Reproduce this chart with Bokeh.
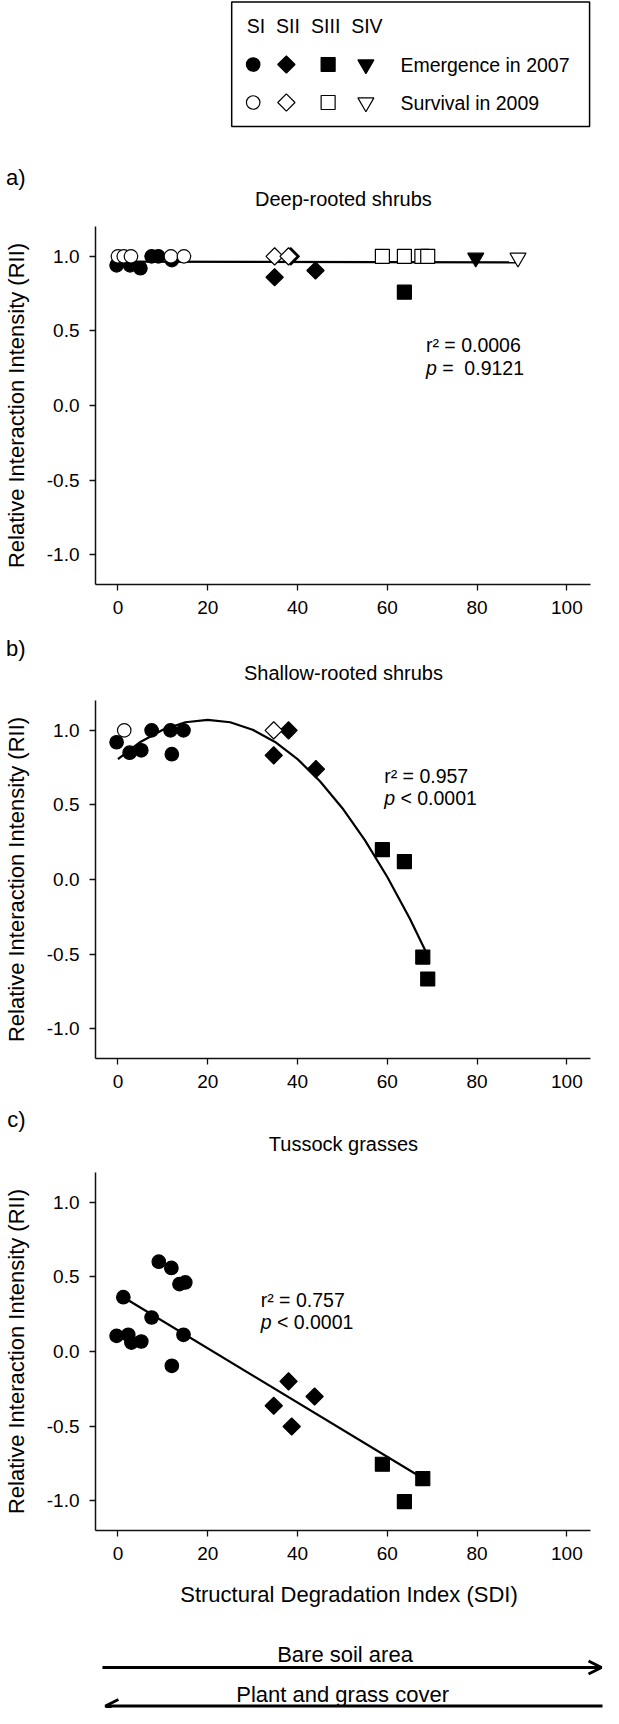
import numpy as np
from bokeh.plotting import figure
from bokeh.layouts import column
from bokeh.models import Label, FixedTicker, PrintfTickFormatter, Range1d, Arrow, OpenHead, LinearAxis
from bokeh.embed import file_html
from bokeh.resources import INLINE

FONT = "Liberation Sans"
NB = "\u00a0"

# ---------------- data (SDI on x, RII on y) ----------------
x_ticks = [0, 20, 40, 60, 80, 100]
y_ticks = [-1.0, -0.5, 0.0, 0.5, 1.0]
groups = ["SI", "SII", "SIII", "SIV"]
row_labels = ["Emergence in 2007", "Survival in 2009"]
panel_letters = ["a)", "b)", "c)"]
panel_titles = ["Deep-rooted shrubs", "Shallow-rooted shrubs", "Tussock grasses"]

# a) Deep-rooted shrubs
a_si_em_x = [-0.3, 2.7, 5.0, 7.5, 9.0, 12.0]
a_si_em_y = [0.94, 0.94, 0.92, 1.00, 1.00, 0.975]
a_si_sv_x = [0.0, 1.3, 2.9, 11.8, 14.7]
a_si_sv_y = [1.00, 1.00, 1.00, 1.00, 1.00]
a_sii_em_x = [34.9, 38.5, 44.0]
a_sii_em_y = [0.86, 1.00, 0.905]
a_sii_sv_x = [34.9, 38.0]
a_sii_sv_y = [1.00, 1.00]
a_siii_em_x = [63.8]
a_siii_em_y = [0.76]
a_siii_sv_x = [58.9, 63.8, 67.7, 69.0]
a_siii_sv_y = [1.00, 1.00, 1.00, 1.00]
a_siv_em_x = [79.7]
a_siv_em_y = [0.99]
a_siv_sv_x = [89.1]
a_siv_sv_y = [0.99]
a_fit_x = [0.0, 89.1]
a_fit_y = [0.965, 0.960]

# b) Shallow-rooted shrubs
b_si_em_x = [-0.3, 2.6, 5.2, 7.5, 11.7, 12.0, 14.6]
b_si_em_y = [0.92, 0.85, 0.866, 1.00, 1.00, 0.84, 1.00]
b_si_sv_x = [1.4]
b_si_sv_y = [1.00]
b_sii_em_x = [38.0, 34.7, 44.1]
b_sii_em_y = [1.00, 0.832, 0.74]
b_sii_sv_x = [34.7]
b_sii_sv_y = [1.00]
b_siii_em_x = [58.9, 63.8, 67.9, 69.0]
b_siii_em_y = [0.20, 0.12, -0.52, -0.667]
b_fit_x = [0, 5, 10, 15, 20, 25, 30, 35, 40, 45, 50, 55, 60, 65, 68.7]
b_fit_y = [0.807, 0.922, 1.004, 1.054, 1.070, 1.054, 1.004, 0.922, 0.807,
           0.659, 0.478, 0.264, 0.017, -0.262, -0.491]

# c) Tussock grasses
c_si_em_x = [-0.3, 1.2, 2.3, 3.0, 5.2, 7.5, 9.1, 11.9, 12.0, 13.7, 15.0, 14.6]
c_si_em_y = [0.105, 0.364, 0.112, 0.06, 0.067, 0.228, 0.602, 0.56, -0.096, 0.452, 0.463, 0.112]
c_sii_em_x = [38.0, 43.8, 34.7, 38.7]
c_sii_em_y = [-0.20, -0.302, -0.364, -0.503]
c_siii_em_x = [58.9, 63.8, 67.9]
c_siii_em_y = [-0.756, -1.007, -0.852]
c_fit_x = [1.2, 67.9]
c_fit_y = [0.364, -0.85]

stats_a = ("r\u00b2 = 0.0006", NB + "=" + NB + NB + "0.9121")
stats_b = ("r\u00b2 = 0.957", NB + "<" + NB + "0.0001")
stats_c = ("r\u00b2 = 0.757", NB + "<" + NB + "0.0001")

# ---------------- styling ----------------
MARK = {"SI": ("circle", 13.5, 0.0),
        "SII": ("square", 12.2, np.pi / 4),
        "SIII": ("square", 14, 0.0),
        "SIV": ("inverted_triangle", 16, 0.0)}
W = 603
BL, BR = 92, 1          # left / right borders shared by every figure (frames page x 100..610)
X_LO, X_HI = -5.0, 107.93
X_AXIS_END = 105.2


def add_points(p, xs, ys, group, filled):
    marker, size, angle = MARK[group]
    p.scatter(xs, ys, marker=marker, size=size, angle=angle,
              fill_color="black" if filled else "white",
              line_color="black", line_width=1.2)


def lab(p, x, y, text, size, align="left", style="normal", x_offset=0):
    p.add_layout(Label(x=x, y=y, text=text, text_font=FONT, text_font_size=size,
                       text_align=align, text_baseline="middle", text_color="black",
                       text_font_style=style, x_offset=x_offset))


def blank(top, height):
    # strip in page-pixel coordinates: frame covers page x 100..610, page y top..top+height
    p = figure(width=W, height=height, x_range=Range1d(8 + BL, 8 + W - BR),
               y_range=Range1d(top + height, top),
               output_backend="svg", toolbar_location=None,
               x_axis_location=None, y_axis_location=None,
               min_border_left=BL, min_border_right=BR, min_border_top=0, min_border_bottom=0)
    p.grid.visible = False
    p.outline_line_color = None
    return p


def title_strip(top, height, idx, y_letter, y_title):
    t = blank(top, height)
    # panel letter shown as the single tick label of an invisible left axis (sits left of the frame)
    ax = LinearAxis(ticker=FixedTicker(ticks=[y_letter], minor_ticks=[]),
                    major_label_overrides={y_letter: panel_letters[idx]})
    ax.axis_line_color = None
    ax.major_tick_line_color = None
    ax.major_tick_out = 0
    ax.major_tick_in = 0
    ax.minor_tick_out = 0
    ax.major_label_standoff = 70
    ax.major_label_text_font = FONT
    ax.major_label_text_font_size = "22px"
    ax.major_label_text_color = "black"
    t.add_layout(ax, "left")
    lab(t, 349.4, y_title, panel_titles[idx], "20px", align="center")
    return t


def panel(height, b_top, b_bottom, stats, ann_x, ann_y1, ann_y2, xlabel=None):
    p = figure(width=W, height=height, x_range=Range1d(X_LO, X_HI), y_range=Range1d(-1.2, 1.2),
               output_backend="svg", toolbar_location=None,
               min_border_left=BL, min_border_right=BR,
               min_border_top=b_top, min_border_bottom=b_bottom)
    p.grid.visible = False
    p.outline_line_color = None
    p.background_fill_color = "white"
    p.border_fill_color = "white"
    xa, ya = p.xaxis[0], p.yaxis[0]
    xa.bounds = (X_LO, X_AXIS_END)
    xa.ticker = FixedTicker(ticks=x_ticks, minor_ticks=[])
    ya.ticker = FixedTicker(ticks=y_ticks, minor_ticks=[])
    ya.formatter = PrintfTickFormatter(format="%.1f")
    for ax in (xa, ya):
        ax.axis_line_width = 1.5
        ax.axis_line_color = "#111111"
        ax.major_tick_line_width = 1.3
        ax.major_tick_line_color = "#111111"
        ax.major_tick_out = 6
        ax.major_tick_in = 0
        ax.minor_tick_out = 0
        ax.major_label_text_font = FONT
        ax.major_label_text_font_size = "19px"
        ax.major_label_text_color = "black"
        ax.axis_label_text_font = FONT
        ax.axis_label_text_font_size = "22px"
        ax.axis_label_text_font_style = "normal"
        ax.axis_label_text_color = "black"
        ax.major_label_standoff = 10
    ya.axis_label = "Relative Interaction Intensity (RII)"
    ya.axis_label_standoff = 15
    if xlabel:
        xa.axis_label = xlabel
        xa.axis_label_standoff = 19
    lab(p, ann_x, ann_y1, stats[0], "19.5px")
    lab(p, ann_x, ann_y2, "p", "19.5px", style="italic")
    lab(p, ann_x, ann_y2, stats[1], "19.5px", x_offset=10.8)
    return p


# ---- legend strip (page y 8..150) ----
leg = blank(8, 142)
leg.quad(left=[237], right=[597], top=[9.5], bottom=[134], fill_color=None,
         line_color="black", line_width=1.5)
col_x = [258.6, 292, 334, 372]
head_x = [261.5, 293.6, 331.6, 373]
for g, cx, hx in zip(groups, col_x, head_x):
    lab(leg, hx, 33, g, "19.5px", align="center")
    add_points(leg, [cx], [72], g, True)
    add_points(leg, [cx], [110], g, False)
lab(leg, 406.7, 72, row_labels[0], "19.5px")
lab(leg, 406.7, 110, row_labels[1], "19.5px")

# ---- panel a ----
ta = title_strip(150, 70, 0, 185, 206.7)
pa = panel(420, 14, 48, stats_a, 68.6, 0.407, 0.25)
pa.line(a_fit_x, a_fit_y, line_color="black", line_width=2.2)
add_points(pa, a_si_em_x, a_si_em_y, "SI", True)
add_points(pa, a_sii_em_x, a_sii_em_y, "SII", True)
add_points(pa, a_siii_em_x, a_siii_em_y, "SIII", True)
add_points(pa, a_siv_em_x, a_siv_em_y, "SIV", True)
add_points(pa, a_si_sv_x, a_si_sv_y, "SI", False)
add_points(pa, a_sii_sv_x, a_sii_sv_y, "SII", False)
add_points(pa, a_siii_sv_x, a_siii_sv_y, "SIII", False)
add_points(pa, a_siv_sv_x, a_siv_sv_y, "SIV", False)

# ---- panel b ----
tb = title_strip(640, 53, 1, 656, 680)
pb = panel(420, 15, 47, stats_b, 59.3, 0.691, 0.546)
pb.line(b_fit_x, b_fit_y, line_color="black", line_width=2.2)
add_points(pb, b_si_em_x, b_si_em_y, "SI", True)
add_points(pb, b_sii_em_x, b_sii_em_y, "SII", True)
add_points(pb, b_siii_em_x, b_siii_em_y, "SIII", True)
add_points(pb, b_si_sv_x, b_si_sv_y, "SI", False)
add_points(pb, b_sii_sv_x, b_sii_sv_y, "SII", False)

# ---- panel c ----
tc = title_strip(1113, 53, 2, 1126.5, 1151.7)
pc = panel(469, 14, 97, stats_c, 31.8, 0.347, 0.196,
           xlabel="Structural Degradation Index (SDI)")
pc.line(c_fit_x, c_fit_y, line_color="black", line_width=2.2)
add_points(pc, c_si_em_x, c_si_em_y, "SI", True)
add_points(pc, c_sii_em_x, c_sii_em_y, "SII", True)
add_points(pc, c_siii_em_x, c_siii_em_y, "SIII", True)

# ---- arrows strip (page y 1635..1716) ----
arr = blank(1635, 81)
lab(arr, 351, 1662, "Bare soil area", "22px", align="center")
arr.add_layout(Arrow(x_start=107, y_start=1675, x_end=609, y_end=1675, line_width=3,
                     line_color="black",
                     end=OpenHead(size=13, line_width=3, line_color="black")))
lab(arr, 348.6, 1702, "Plant and grass cover", "22px", align="center")
arr.add_layout(Arrow(x_start=612, y_start=1713.5, x_end=110, y_end=1713.5, line_width=3,
                     line_color="black",
                     end=OpenHead(size=13, line_width=3, line_color="black")))

layout = column(leg, ta, pa, tb, pb, tc, pc, arr, spacing=0)
open("out.html", "w").write(file_html(layout, INLINE))
